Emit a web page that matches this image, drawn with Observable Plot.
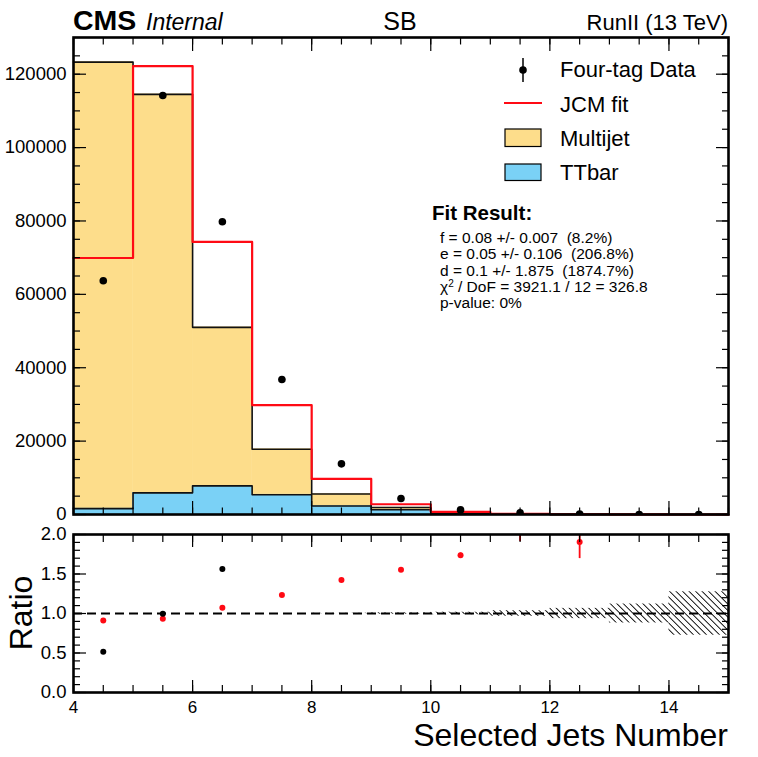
<!DOCTYPE html>
<html><head><meta charset="utf-8">
<script src="https://cdn.jsdelivr.net/npm/d3@7"></script>
<script src="https://cdn.jsdelivr.net/npm/@observablehq/plot@0.6"></script>
<style>
html,body{margin:0;padding:0;background:#fff;}
#wrap{position:relative;width:758px;height:757px;font-family:"Liberation Sans",Arial,Helvetica,sans-serif;}
#main{position:absolute;left:0;top:0;}
#ratio{position:absolute;left:0;top:530px;}
#overlay{position:absolute;left:0;top:0;pointer-events:none;}
</style></head><body>
<div id="wrap"><div id="main"></div><div id="ratio"></div><svg id="overlay" width="758" height="757"></svg></div>
<script>
// ---- data ----
const binLow = [4, 5, 6, 7, 8, 9, 10, 11, 12, 13, 14];
const binWidth = 1;
const dataCounts = [63700, 114200, 79800, 36800, 13800, 4350, 1250, 440, 120, 0, 0];
const multijet = [121700, 108600, 43200, 12400, 3300, 600, 150, 40, 15, 4, 1];
const ttbar = [1600, 5900, 7800, 5400, 2300, 1300, 300, 80, 25, 6, 2];
const jcmFit = [69900, 122200, 74300, 29800, 9700, 2800, 720, 200, 63, 15, 4];
const ratioFitErr = [0.005, 0.004, 0.005, 0.008, 0.015, 0.02, 0.03, 0.29, 0.21, 0, 0];
const bandErr = [0, 0, 0, 0, 0.003, 0.008, 0.016, 0.035, 0.065, 0.12, 0.275];
const yTicksMain = [0, 20000, 40000, 60000, 80000, 100000, 120000];
const xTicks = [4, 6, 8, 10, 12, 14];
const ratioTicks = [0, 0.5, 1, 1.5, 2];
const legendLabels = ["Four-tag Data", "JCM fit", "Multijet", "TTbar"];
const fitTitle = "Fit Result:";
const fitLines = ["f = 0.08 +/- 0.007  (8.2%)", "e = 0.05 +/- 0.106  (206.8%)", "d = 0.1 +/- 1.875  (1874.7%)"];
const chi2Text = " / DoF = 3921.1 / 12 = 326.8";
const pValueText = "p-value: 0%";

const YEL = "#fddd8b", BLUE = "#7ad1f6", RED = "#ff0a14";
const FONT = '"Liberation Sans", Arial, Helvetica, sans-serif';

const bins = binLow.map((x0, i) => ({
  x0, x1: x0 + binWidth, xc: x0 + binWidth / 2,
  data: dataCounts[i], mj: multijet[i], tt: ttbar[i], total: multijet[i] + ttbar[i],
  fit: jcmFit[i], fitErr: ratioFitErr[i], band: bandErr[i]
}));
bins.forEach(b => { b.rFit = b.data / b.fit; b.rData = b.data / b.total; });
const last = bins[bins.length - 1];
const steps = acc => [...bins.map(b => ({x: b.x0, y: acc(b)})), {x: last.x1, y: acc(last)}];

const tickStroke = {stroke: "black", strokeWidth: 1.2, fill: "none", label: null};

// ---- main panel ----
const main = Plot.plot({
  width: 758, height: 530,
  marginTop: 37, marginBottom: 16, marginLeft: 73, marginRight: 30,
  x: {domain: [4, 15]},
  y: {domain: [0, 130000]},
  style: {fontFamily: FONT, fontSize: "18.5px", background: "transparent", color: "black", overflow: "visible"},
  marks: [
    Plot.rectY(bins, {x1: "x0", x2: "x1", y1: "tt", y2: "total", fill: YEL, stroke: YEL, strokeWidth: 0.5}),
    Plot.rectY(bins, {x1: "x0", x2: "x1", y1: 0, y2: "tt", fill: BLUE, stroke: BLUE, strokeWidth: 0.5}),
    Plot.line(steps(b => b.total), {x: "x", y: "y", curve: "step-after", stroke: "#111", strokeWidth: 1.6}),
    Plot.line(steps(b => b.tt), {x: "x", y: "y", curve: "step-after", stroke: "#111", strokeWidth: 1.6}),
    Plot.line(steps(b => b.fit), {x: "x", y: "y", curve: "step-after", stroke: RED, strokeWidth: 2.2}),
    Plot.dot(bins, {x: "xc", y: "data", r: 3.8, fill: "black", clip: true}),
    Plot.axisY({anchor: "left", ticks: yTicksMain, tickSize: 0, tickPadding: 7, label: null, tickFormat: d => String(d)}),
    Plot.axisY({anchor: "left", ticks: yTicksMain, tickSize: -13, ...tickStroke}),
    Plot.axisY({anchor: "left", ticks: d3.range(0, 130001, 5000), tickSize: -7, ...tickStroke}),
    Plot.axisY({anchor: "right", ticks: yTicksMain, tickSize: -13, ...tickStroke}),
    Plot.axisY({anchor: "right", ticks: d3.range(0, 130001, 5000), tickSize: -7, ...tickStroke}),
    Plot.axisX({anchor: "bottom", ticks: xTicks, tickSize: -13, ...tickStroke}),
    Plot.axisX({anchor: "bottom", ticks: d3.range(4, 15.01, 0.5), tickSize: -6.5, ...tickStroke}),
    Plot.axisX({anchor: "top", ticks: xTicks, tickSize: -13, ...tickStroke}),
    Plot.axisX({anchor: "top", ticks: d3.range(4, 15.01, 0.5), tickSize: -6.5, ...tickStroke}),
    Plot.frame({stroke: "black", strokeWidth: 2.6})
  ]
});
document.getElementById("main").appendChild(main);

// ---- ratio panel ----
const ratioPts = bins.filter(b => b.data > 0);
const ratio = Plot.plot({
  width: 758, height: 227,
  marginTop: 4, marginBottom: 65, marginLeft: 73, marginRight: 30,
  x: {domain: [4, 15]},
  y: {domain: [0, 2]},
  style: {fontFamily: FONT, fontSize: "18.5px", background: "transparent", color: "black", overflow: "visible"},
  marks: [
    Plot.rectY(bins.filter(b => b.band > 0), {x1: "x0", x2: "x1", y1: b => 1 - b.band, y2: b => 1 + b.band, fill: "url(#hatch)"}),
    Plot.ruleY([1], {stroke: "black", strokeWidth: 2, strokeDasharray: "9,5"}),
    Plot.ruleX(ratioPts, {x: "xc", y1: b => b.rFit - b.fitErr, y2: b => b.rFit + b.fitErr, stroke: RED, strokeWidth: 1.8, clip: true}),
    Plot.dot(ratioPts, {x: "xc", y: "rFit", r: 3, fill: RED, clip: true}),
    Plot.dot(ratioPts, {x: "xc", y: "rData", r: 3, fill: "black", clip: true}),
    Plot.axisY({anchor: "left", ticks: ratioTicks, tickSize: 0, tickPadding: 7, label: null, tickFormat: d3.format(".1f")}),
    Plot.axisY({anchor: "left", ticks: ratioTicks, tickSize: -13, ...tickStroke}),
    Plot.axisY({anchor: "left", ticks: d3.range(0, 2.001, 0.1), tickSize: -7, ...tickStroke}),
    Plot.axisY({anchor: "right", ticks: ratioTicks, tickSize: -13, ...tickStroke}),
    Plot.axisY({anchor: "right", ticks: d3.range(0, 2.001, 0.1), tickSize: -7, ...tickStroke}),
    Plot.axisX({anchor: "bottom", ticks: xTicks, tickSize: 0, tickPadding: 8, label: null, fontSize: 17, tickFormat: d => String(d)}),
    Plot.axisX({anchor: "bottom", ticks: xTicks, tickSize: -12, ...tickStroke}),
    Plot.axisX({anchor: "bottom", ticks: d3.range(4, 15.01, 0.5), tickSize: -7, ...tickStroke}),
    Plot.axisX({anchor: "top", ticks: xTicks, tickSize: -12, ...tickStroke}),
    Plot.axisX({anchor: "top", ticks: d3.range(4, 15.01, 0.5), tickSize: -7, ...tickStroke}),
    Plot.frame({stroke: "black", strokeWidth: 2.6})
  ]
});
const ns = "http://www.w3.org/2000/svg";
const defs = document.createElementNS(ns, "defs");
defs.innerHTML = '<pattern id="hatch" patternUnits="userSpaceOnUse" width="4.6" height="4.6" patternTransform="rotate(-45)"><line x1="2.3" y1="-1" x2="2.3" y2="5.6" stroke="black" stroke-width="0.9"/></pattern>';
ratio.insertBefore(defs, ratio.firstChild);
document.getElementById("ratio").appendChild(ratio);

// ---- overlay texts & legend ----
const ov = d3.select("#overlay").style("font-family", FONT);
const txt = (x, y, s, size, opts = {}) => ov.append("text").attr("x", x).attr("y", y)
  .attr("font-size", size).attr("text-anchor", opts.anchor || "start")
  .attr("font-weight", opts.bold ? "bold" : null).attr("font-style", opts.italic ? "italic" : null)
  .style("white-space", "pre").attr("fill", "black").text(s);

txt(73, 30, "CMS", 28.5, {bold: true});
txt(146, 30, "Internal", 23, {italic: true});
txt(400, 29.5, "SB", 25, {anchor: "middle"});
txt(728, 29.5, "RunII (13 TeV)", 22, {anchor: "end"});

// legend
ov.append("line").attr("x1", 523).attr("x2", 523).attr("y1", 58).attr("y2", 82).attr("stroke", "black").attr("stroke-width", 1.5);
ov.append("circle").attr("cx", 523).attr("cy", 70).attr("r", 3.8).attr("fill", "black");
ov.append("line").attr("x1", 504).attr("x2", 542).attr("y1", 103).attr("y2", 103).attr("stroke", RED).attr("stroke-width", 2);
ov.append("rect").attr("x", 505).attr("y", 129).attr("width", 36).attr("height", 17.5).attr("fill", YEL).attr("stroke", "black").attr("stroke-width", 1.2);
ov.append("rect").attr("x", 505).attr("y", 164).attr("width", 36).attr("height", 16.5).attr("fill", BLUE).attr("stroke", "black").attr("stroke-width", 1.2);
const legY = [77, 111.5, 146, 180];
legendLabels.forEach((s, i) => txt(560, legY[i], s, 22));

// fit result box
txt(432, 220, fitTitle, 20.5, {bold: true});
const fitY = [243.3, 259.3, 275.5];
fitLines.forEach((s, i) => txt(440, fitY[i], s, 15.5));
const chi = txt(440, 291.7, "χ", 15.5);
chi.append("tspan").attr("dy", -5).attr("font-size", 10).text("2");
chi.append("tspan").attr("dy", 5).text(chi2Text);
txt(440, 307.5, pValueText, 15.5);

// axis titles
txt(728, 745.5, "Selected Jets Number", 32, {anchor: "end"});
ov.append("text").attr("transform", "translate(32,613) rotate(-90)").attr("text-anchor", "middle")
  .attr("font-size", 32).attr("fill", "black").text("Ratio");
</script>
</body></html>
